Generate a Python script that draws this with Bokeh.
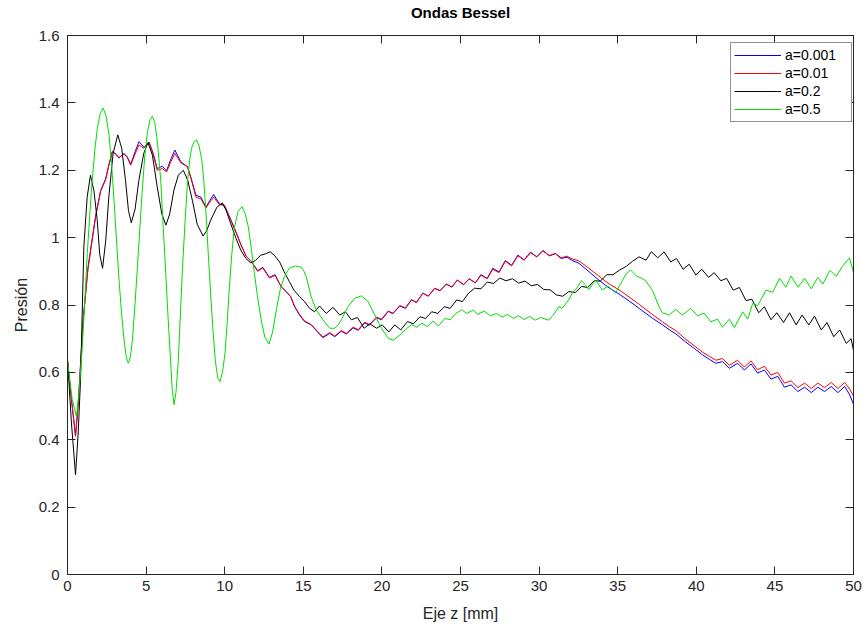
from bokeh.plotting import figure
from bokeh.models import LinearAxis, FixedTicker, CustomJSTickFormatter, Range1d
from bokeh.embed import file_html
from bokeh.resources import INLINE

# ---------------- data ----------------
z_a0001 = [0.0, 0.25, 0.51, 0.7, 0.83, 1.0, 1.15, 1.3, 1.47, 1.79, 2.11, 2.43, 2.6, 2.85, 3.05, 3.27, 3.6, 3.8,
           4.02, 4.3, 4.55, 4.87, 5.19, 5.45, 5.71, 6.03, 6.3, 6.55, 6.83, 7.21, 7.64, 7.9, 8.17, 8.49, 8.81, 9.05,
           9.3, 9.66, 9.98, 10.4, 10.72, 11.04, 11.36, 11.68, 12.1, 12.42, 12.85, 13.2, 13.57, 13.9, 14.2, 14.44,
           14.76, 15.08, 15.5, 15.9, 16.25, 16.68, 17.0, 17.42, 17.74, 18.17, 18.5, 18.91, 19.2, 19.66, 19.98, 20.4,
           20.7, 21.14, 21.5, 21.88, 22.2, 22.6, 22.95, 23.36, 23.7, 24.1, 24.45, 24.8, 25.2, 25.55, 25.95, 26.3,
           26.7, 27.05, 27.45, 27.85, 28.25, 28.65, 29.05, 29.45, 29.85, 30.25, 30.65, 31.04, 31.4, 31.78, 32.1,
           32.53, 33.17, 33.8, 34.44, 35.08, 35.72, 36.36, 37.2, 37.85, 38.27, 38.7, 39.33, 39.9, 40.4, 40.85, 41.25,
           41.67, 42.1, 42.63, 43.06, 43.48, 43.9, 44.33, 44.75, 45.18, 45.61, 46.03, 46.46, 46.89, 47.31, 47.73,
           48.16, 48.58, 49.01, 49.44, 49.76, 50.0]
p_a0001 = [0.635, 0.52, 0.412, 0.52, 0.627, 0.76, 0.835, 0.91, 0.965, 1.065, 1.14, 1.175, 1.21, 1.255, 1.25, 1.236,
           1.25, 1.24, 1.218, 1.255, 1.285, 1.268, 1.284, 1.25, 1.205, 1.212, 1.198, 1.23, 1.26, 1.225, 1.21, 1.17,
           1.126, 1.12, 1.09, 1.11, 1.128, 1.1, 1.096, 1.052, 1.017, 0.978, 0.945, 0.93, 0.902, 0.912, 0.882, 0.89,
           0.856, 0.84, 0.825, 0.795, 0.77, 0.751, 0.741, 0.72, 0.703, 0.716, 0.706, 0.722, 0.714, 0.732, 0.725,
           0.747, 0.74, 0.762, 0.756, 0.781, 0.774, 0.797, 0.79, 0.815, 0.807, 0.835, 0.826, 0.849, 0.842, 0.862,
           0.853, 0.874, 0.86, 0.878, 0.866, 0.89, 0.879, 0.909, 0.898, 0.932, 0.918, 0.948, 0.934, 0.957, 0.943,
           0.962, 0.946, 0.952, 0.938, 0.942, 0.932, 0.924, 0.899, 0.874, 0.851, 0.833, 0.812, 0.79, 0.761, 0.741,
           0.727, 0.714, 0.69, 0.67, 0.652, 0.638, 0.627, 0.632, 0.612, 0.627, 0.607, 0.625, 0.598, 0.607, 0.58,
           0.588, 0.556, 0.563, 0.543, 0.556, 0.54, 0.556, 0.543, 0.558, 0.54, 0.558, 0.533, 0.505]

z_a001 = z_a0001
p_a001 = [0.635, 0.52, 0.41, 0.515, 0.622, 0.755, 0.83, 0.905, 0.96, 1.062, 1.138, 1.172, 1.208, 1.255, 1.248, 1.238,
          1.248, 1.238, 1.215, 1.248, 1.275, 1.265, 1.282, 1.248, 1.2, 1.205, 1.195, 1.222, 1.25, 1.222, 1.21, 1.168,
          1.12, 1.115, 1.088, 1.105, 1.12, 1.098, 1.096, 1.05, 1.015, 0.978, 0.945, 0.93, 0.9, 0.91, 0.88, 0.888,
          0.856, 0.84, 0.825, 0.797, 0.772, 0.753, 0.742, 0.722, 0.705, 0.718, 0.708, 0.724, 0.716, 0.734, 0.727,
          0.749, 0.742, 0.764, 0.758, 0.782, 0.776, 0.798, 0.792, 0.816, 0.808, 0.835, 0.827, 0.85, 0.843, 0.862,
          0.854, 0.874, 0.861, 0.877, 0.866, 0.888, 0.878, 0.906, 0.896, 0.93, 0.916, 0.946, 0.933, 0.955, 0.943,
          0.96, 0.947, 0.953, 0.94, 0.945, 0.937, 0.931, 0.909, 0.886, 0.863, 0.845, 0.824, 0.802, 0.772, 0.75,
          0.736, 0.724, 0.698, 0.678, 0.66, 0.647, 0.636, 0.641, 0.621, 0.636, 0.616, 0.634, 0.608, 0.618, 0.592,
          0.6, 0.568, 0.575, 0.555, 0.568, 0.552, 0.568, 0.555, 0.57, 0.552, 0.57, 0.55, 0.53]

z_a02 = [0.0, 0.25, 0.51, 0.68, 0.83, 1.04, 1.25, 1.46, 1.68, 1.89, 2.05, 2.23, 2.43, 2.63, 2.9, 3.2, 3.45, 3.69,
         3.88, 4.06, 4.3, 4.54, 4.85, 5.12, 5.4, 5.71, 6.0, 6.26, 6.5, 6.77, 7.05, 7.37, 7.65, 7.94, 8.25, 8.62,
         8.85, 9.11, 9.5, 9.85, 10.1, 10.38, 10.7, 11.02, 11.35, 11.66, 11.95, 12.29, 12.6, 12.89, 13.15, 13.49,
         13.78, 14.12, 14.41, 14.76, 15.08, 15.4, 15.72, 16.04, 16.46, 16.89, 17.32, 17.68, 18.06, 18.44, 18.87,
         19.23, 19.66, 20.02, 20.44, 20.82, 21.2, 21.63, 22.0, 22.42, 22.78, 23.17, 23.55, 23.98, 24.34, 24.76,
         25.12, 25.51, 25.9, 26.3, 26.7, 27.1, 27.5, 27.9, 28.3, 28.7, 29.1, 29.5, 29.9, 30.3, 30.7, 31.1, 31.5,
         31.9, 32.3, 32.7, 33.1, 33.5, 33.9, 34.3, 34.7, 35.1, 35.55, 35.95, 36.36, 36.8, 37.14, 37.55, 37.95,
         38.37, 38.74, 39.16, 39.55, 39.97, 40.35, 40.78, 41.14, 41.56, 41.93, 42.35, 42.74, 43.16, 43.54, 43.97,
         44.33, 44.75, 45.12, 45.55, 45.93, 46.35, 46.73, 47.16, 47.52, 47.95, 48.31, 48.74, 49.12, 49.54, 49.85,
         50.0]
p_a02 = [0.64, 0.45, 0.296, 0.42, 0.578, 0.973, 1.12, 1.185, 1.14, 1.052, 0.95, 0.909, 0.99, 1.121, 1.25, 1.305,
         1.265, 1.17, 1.08, 1.044, 1.085, 1.17, 1.25, 1.282, 1.245, 1.15, 1.07, 1.037, 1.07, 1.141, 1.185, 1.2, 1.17,
         1.111, 1.04, 1.005, 1.02, 1.052, 1.09, 1.103, 1.08, 1.042, 1.0, 0.963, 0.938, 0.925, 0.932, 0.948, 0.952,
         0.958, 0.948, 0.928, 0.899, 0.869, 0.844, 0.825, 0.81, 0.79, 0.78, 0.797, 0.775, 0.793, 0.77, 0.78, 0.756,
         0.763, 0.731, 0.744, 0.731, 0.741, 0.72, 0.741, 0.726, 0.751, 0.744, 0.765, 0.76, 0.78, 0.775, 0.795, 0.79,
         0.815, 0.81, 0.835, 0.85, 0.848, 0.868, 0.864, 0.88, 0.872, 0.878, 0.865, 0.871, 0.857, 0.861, 0.846,
         0.845, 0.83, 0.826, 0.84, 0.837, 0.855, 0.852, 0.872, 0.871, 0.89, 0.89, 0.903, 0.915, 0.93, 0.943, 0.933,
         0.958, 0.94, 0.958, 0.928, 0.938, 0.906, 0.921, 0.889, 0.906, 0.882, 0.896, 0.872, 0.879, 0.844, 0.852,
         0.813, 0.817, 0.777, 0.795, 0.756, 0.777, 0.748, 0.777, 0.741, 0.77, 0.741, 0.767, 0.726, 0.748, 0.706,
         0.726, 0.686, 0.7, 0.665]

z_a05 = [0.0, 0.3, 0.57, 0.75, 0.94, 1.1, 1.26, 1.42, 1.57, 1.75, 1.9, 2.08, 2.26, 2.45, 2.64, 2.8, 2.96, 3.12,
         3.28, 3.44, 3.6, 3.74, 3.87, 4.0, 4.13, 4.29, 4.45, 4.61, 4.77, 4.93, 5.09, 5.25, 5.4, 5.55, 5.72, 5.93,
         6.09, 6.25, 6.39, 6.53, 6.66, 6.78, 6.9, 7.04, 7.18, 7.32, 7.48, 7.64, 7.77, 7.89, 8.05, 8.21, 8.37, 8.53,
         8.67, 8.81, 8.97, 9.13, 9.27, 9.4, 9.55, 9.7, 9.86, 10.02, 10.16, 10.3, 10.45, 10.61, 10.85, 11.1, 11.3,
         11.5, 11.7, 11.89, 12.1, 12.32, 12.55, 12.82, 13.05, 13.3, 13.55, 13.8, 14.12, 14.5, 14.87, 15.05, 15.19,
         15.5, 15.83, 16.25, 16.68, 17.0, 17.2, 17.42, 17.85, 18.27, 18.7, 19.12, 19.55, 19.97, 20.4, 20.72, 21.14,
         21.57, 21.89, 22.2, 22.55, 22.9, 23.25, 23.6, 24.0, 24.35, 24.7, 25.08, 25.4, 25.8, 26.1, 26.5, 26.9,
         27.3, 27.65, 28.0, 28.35, 28.7, 29.05, 29.4, 29.76, 30.1, 30.6, 30.9, 31.25, 31.46, 31.89, 32.1, 32.4,
         32.69, 32.95, 33.16, 33.59, 34.01, 34.4, 34.86, 35.29, 35.55, 35.82, 36.2, 36.5, 36.78, 37.2, 37.63,
         37.84, 38.27, 38.69, 39.1, 39.65, 40.07, 40.5, 40.93, 41.35, 41.67, 42.1, 42.42, 42.95, 43.27, 43.59,
         43.9, 44.44, 44.87, 45.29, 45.7, 46.03, 46.46, 46.89, 47.31, 47.73, 48.05, 48.5, 48.9, 49.3, 49.75, 50.0]
p_a05 = [0.632, 0.52, 0.469, 0.55, 0.676, 0.81, 0.953, 1.07, 1.17, 1.265, 1.325, 1.368, 1.385, 1.362, 1.305, 1.22,
         1.111, 0.99, 0.874, 0.775, 0.696, 0.645, 0.627, 0.645, 0.696, 0.8, 0.914, 1.035, 1.15, 1.25, 1.315, 1.35,
         1.36, 1.342, 1.285, 1.17, 1.03, 0.894, 0.77, 0.657, 0.55, 0.504, 0.54, 0.627, 0.77, 0.914, 1.05, 1.17, 1.23,
         1.265, 1.285, 1.29, 1.272, 1.235, 1.17, 1.072, 0.94, 0.815, 0.715, 0.637, 0.585, 0.573, 0.6, 0.657, 0.75,
         0.854, 0.95, 1.028, 1.078, 1.092, 1.072, 1.032, 0.965, 0.894, 0.82, 0.756, 0.705, 0.684, 0.72, 0.79, 0.85,
         0.885, 0.91, 0.916, 0.912, 0.9, 0.884, 0.825, 0.785, 0.756, 0.731, 0.731, 0.74, 0.756, 0.795, 0.82, 0.827,
         0.81, 0.77, 0.731, 0.701, 0.696, 0.711, 0.73, 0.742, 0.734, 0.746, 0.736, 0.752, 0.738, 0.76, 0.756,
         0.775, 0.786, 0.775, 0.785, 0.772, 0.782, 0.768, 0.775, 0.764, 0.772, 0.76, 0.768, 0.757, 0.766, 0.755,
         0.763, 0.755, 0.77, 0.795, 0.79, 0.815, 0.835, 0.85, 0.872, 0.86, 0.846, 0.874, 0.845, 0.856, 0.836,
         0.872, 0.893, 0.904, 0.886, 0.88, 0.872, 0.844, 0.795, 0.777, 0.77, 0.787, 0.77, 0.79, 0.768, 0.776,
         0.75, 0.758, 0.734, 0.758, 0.733, 0.78, 0.758, 0.805, 0.798, 0.844, 0.838, 0.879, 0.853, 0.886, 0.853,
         0.879, 0.848, 0.882, 0.862, 0.903, 0.885, 0.915, 0.94, 0.895]

series_labels = ["a=0.001", "a=0.01", "a=0.2", "a=0.5"]
series_colors = ["#0000ff", "#ff0000", "#000000", "#00dd00"]
x_ticks = [0, 5, 10, 15, 20, 25, 30, 35, 40, 45, 50]
y_ticks = [0, 0.2, 0.4, 0.6, 0.8, 1.0, 1.2, 1.4, 1.6]
title_text = "Ondas Bessel"

# ---------------- figure ----------------
FONT = "Liberation Sans"
AX = "#262626"

p = figure(width=867, height=627, output_backend="svg", toolbar_location=None,
           x_range=Range1d(0, 50), y_range=Range1d(0, 1.6),
           min_border_left=67, min_border_right=14, min_border_top=35, min_border_bottom=53)

p.xgrid.visible = False
p.ygrid.visible = False
p.outline_line_color = AX
p.background_fill_color = "white"
p.border_fill_color = "white"

fmt = CustomJSTickFormatter(code="return (Math.round(tick*10)/10).toString();")

def style_axis(ax, show_labels=True):
    ax.axis_line_color = AX
    ax.major_tick_line_color = AX
    ax.major_tick_in = 8
    ax.major_tick_out = 0
    ax.minor_tick_line_color = None
    ax.major_label_text_font = FONT
    ax.axis_label_text_font = FONT
    ax.axis_label_text_font_size = "16px"
    ax.axis_label_text_font_style = "normal"
    ax.axis_label_text_color = "#262626"
    if show_labels:
        ax.major_label_text_font_size = "15px"
        ax.major_label_text_color = "#262626"
    else:
        ax.major_label_text_font_size = "1px"
        ax.major_label_text_color = None
        ax.major_label_text_alpha = 0
        ax.major_label_standoff = 0

xa = p.xaxis[0]
xa.ticker = FixedTicker(ticks=x_ticks)
xa.axis_label = "Eje z [mm]"
style_axis(xa)
xa.major_label_standoff = 6
xa.axis_label_standoff = 11

ya = p.yaxis[0]
ya.ticker = FixedTicker(ticks=y_ticks)
ya.formatter = fmt
ya.axis_label = "Presión"
style_axis(ya)
ya.major_label_standoff = 8
ya.axis_label_standoff = 6

# top axis: box edge with inward ticks; its label serves as the chart title
top = LinearAxis(ticker=FixedTicker(ticks=x_ticks))
style_axis(top, show_labels=False)
top.axis_label = title_text
top.axis_label_text_font_size = "15px"
top.axis_label_text_font_style = "bold"
top.axis_label_text_color = "#000000"
top.axis_label_standoff = 15
p.add_layout(top, "above")

right = LinearAxis(ticker=FixedTicker(ticks=y_ticks))
style_axis(right, show_labels=False)
p.add_layout(right, "right")

zs = [z_a0001, z_a001, z_a02, z_a05]
ps = [p_a0001, p_a001, p_a02, p_a05]
for zz, vv, lab, col in zip(zs, ps, series_labels, series_colors):
    p.line(zz, vv, line_color=col, line_width=1, legend_label=lab)

legend = p.legend[0]
legend.location = (663, 452)
legend.label_text_font = FONT
legend.label_text_font_size = "14px"
legend.label_text_color = "#000000"
legend.label_height = 18
legend.glyph_height = 18
legend.glyph_width = 47
legend.label_standoff = 4
legend.label_width = 63
legend.spacing = 0
legend.padding = 3
legend.margin = 0
legend.border_line_color = AX
legend.border_line_width = 1
legend.background_fill_color = "white"
legend.background_fill_alpha = 1

open("out.html", "w").write(file_html(p, INLINE))
